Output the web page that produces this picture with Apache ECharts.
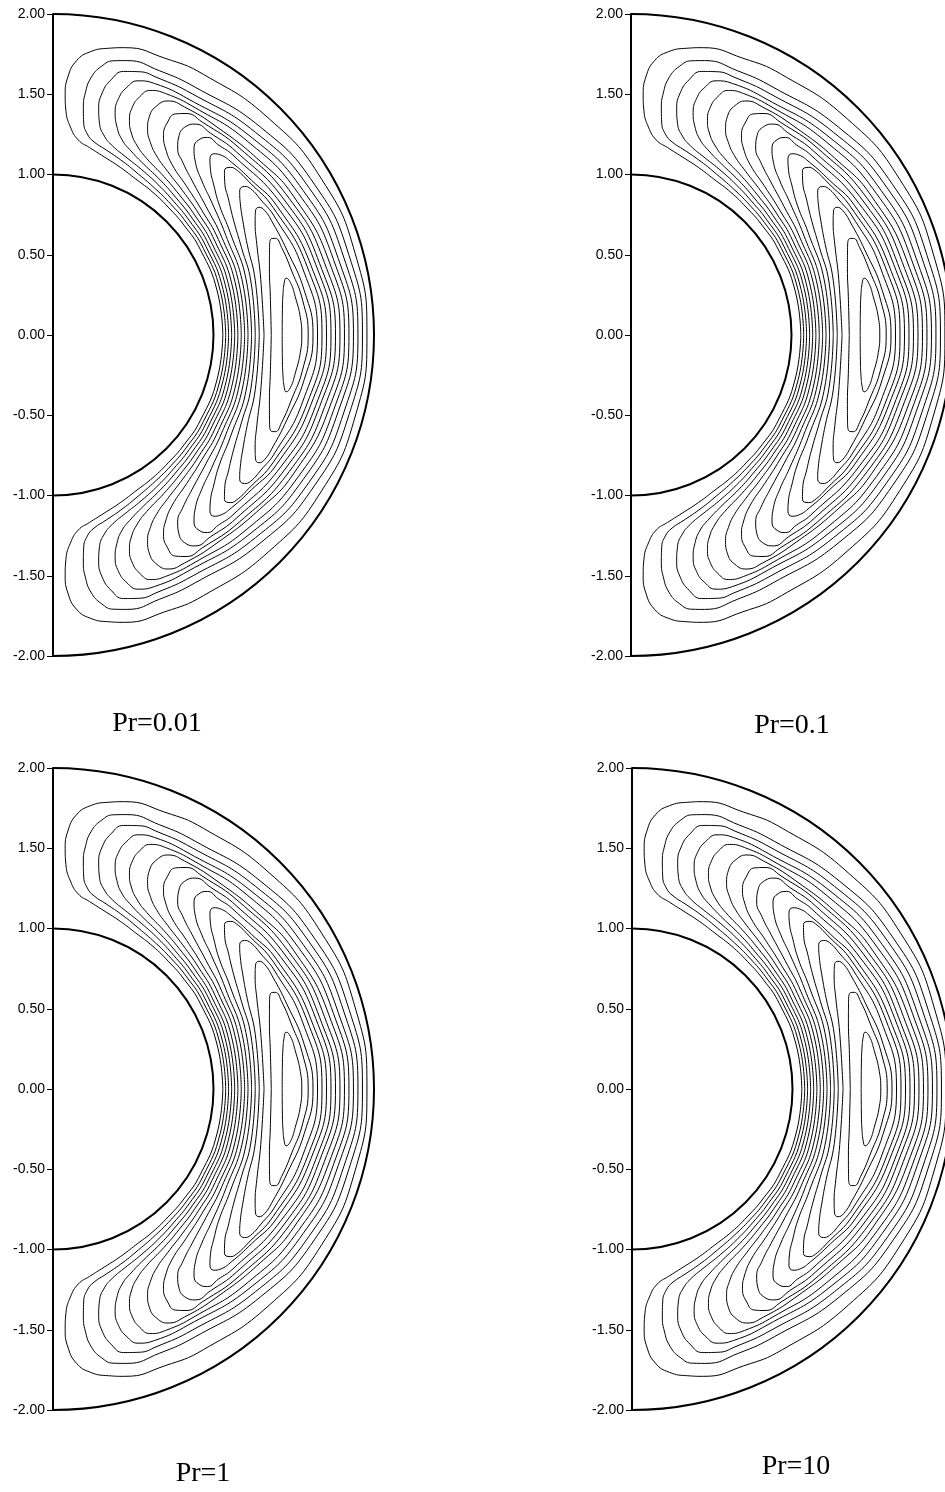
<!DOCTYPE html>
<html>
<head>
<meta charset="utf-8">
<script src="https://cdn.jsdelivr.net/npm/echarts@6/dist/echarts.min.js"></script>
<style>
html, body { margin: 0; padding: 0; background: #fff; }
#main { width: 945px; height: 1492px; }
</style>
</head>
<body>
<div id="main"></div>
<script>
// panel captions
const panelNames = ['Pr=0.01', 'Pr=0.1', 'Pr=1', 'Pr=10'];
// inner and outer wall radii
const walls = [1, 2];
// streamlines, upper half only: [angle deg, radius], inner side -> tip -> outer side
const c01 = [[0,1.058],[15,1.059],[30,1.061],[40,1.065],[48,1.072],[55,1.085],[62,1.10],[68,1.125],[74,1.155],[79,1.19],[82.6,1.225],[85.2,1.30],[86.7,1.40],[87.1,1.50],[86.7,1.61],[85.1,1.715],[82.5,1.78],[79,1.82],[76,1.845],[68,1.86],[60,1.875],[45,1.905],[30,1.935],[15,1.95],[0,1.956]];
const c02 = [[0,1.076],[15,1.078],[30,1.081],[40,1.087],[48,1.097],[55,1.112],[62,1.135],[68,1.165],[74,1.20],[78,1.23],[80.3,1.27],[81.8,1.34],[82.4,1.43],[82.4,1.52],[81.6,1.62],[79.8,1.70],[77.5,1.75],[75,1.77],[68,1.775],[60,1.78],[45,1.83],[30,1.88],[15,1.91],[0,1.928]];
const c03 = [[0,1.094],[15,1.097],[30,1.101],[40,1.109],[48,1.122],[55,1.143],[62,1.17],[68,1.20],[72.5,1.235],[75.5,1.28],[77.6,1.35],[78.6,1.44],[78.5,1.54],[77.2,1.63],[75,1.70],[72,1.725],[68,1.73],[60,1.735],[45,1.785],[30,1.84],[15,1.875],[0,1.90]];
const c04 = [[0,1.113],[15,1.117],[30,1.122],[40,1.132],[48,1.148],[55,1.173],[62,1.205],[67,1.245],[70.5,1.29],[73,1.36],[74.4,1.44],[74.5,1.53],[73.4,1.61],[71.5,1.67],[68,1.69],[60,1.695],[45,1.745],[30,1.80],[15,1.84],[0,1.872]];
const c05 = [[0,1.132],[15,1.137],[30,1.143],[40,1.156],[48,1.176],[55,1.205],[62,1.245],[66,1.29],[68.8,1.35],[70.4,1.42],[70.8,1.5],[70,1.58],[68.3,1.64],[65,1.66],[58,1.67],[45,1.71],[30,1.765],[15,1.81],[0,1.844]];
const c06 = [[0,1.152],[15,1.158],[30,1.166],[40,1.182],[48,1.208],[55,1.245],[60,1.29],[63.2,1.345],[65.3,1.41],[66.2,1.49],[65.6,1.57],[63.8,1.625],[60,1.64],[52,1.65],[40,1.685],[30,1.73],[15,1.78],[0,1.816]];
const c07 = [[0,1.173],[15,1.18],[30,1.19],[40,1.21],[48,1.245],[55,1.295],[58.8,1.355],[61,1.42],[61.7,1.50],[61,1.575],[59,1.61],[55,1.62],[45,1.645],[30,1.70],[15,1.75],[0,1.788]];
const c08 = [[0,1.194],[15,1.202],[30,1.215],[40,1.245],[48,1.295],[53,1.345],[56.3,1.40],[57.7,1.47],[57.5,1.54],[56,1.585],[52,1.595],[45,1.615],[30,1.67],[15,1.72],[0,1.76]];
const c09 = [[0,1.215],[15,1.225],[30,1.243],[40,1.29],[46,1.335],[50.5,1.395],[53,1.46],[53.2,1.52],[52,1.562],[49,1.57],[45,1.585],[30,1.64],[15,1.695],[0,1.732]];
const c10 = [[0,1.237],[15,1.25],[30,1.275],[38,1.315],[43,1.37],[46.5,1.425],[48.3,1.47],[48.4,1.51],[47.1,1.532],[44,1.548],[38,1.568],[30,1.61],[15,1.665],[0,1.704]];
const c11 = [[0,1.26],[15,1.277],[25,1.295],[32,1.33],[37.5,1.38],[41.8,1.435],[43.8,1.48],[43.4,1.52],[42,1.538],[38,1.55],[30,1.585],[15,1.64],[0,1.676]];
const c12 = [[0,1.285],[15,1.305],[25,1.335],[31,1.38],[35,1.425],[37.7,1.47],[37.8,1.51],[36.5,1.532],[33,1.545],[28,1.565],[15,1.61],[0,1.648]];
const c13 = [[0,1.315],[15,1.34],[24,1.39],[29,1.44],[31.5,1.48],[31.8,1.51],[30.5,1.53],[27,1.537],[20,1.55],[10,1.59],[0,1.62]];
const c14 = [[0,1.36],[10,1.375],[17,1.41],[21.5,1.45],[23.8,1.485],[23.5,1.51],[21,1.525],[15,1.54],[8,1.57],[0,1.59]];
const c15 = [[0,1.428],[6,1.437],[10,1.455],[12.8,1.478],[13.7,1.495],[12.5,1.515],[9,1.528],[4,1.545],[0,1.55]];
const contours = [c01, c02, c03, c04, c05, c06, c07, c08, c09, c10, c11, c12, c13, c14, c15];

// layout of the four panels (pixel position of the y axis top) and captions
const panelPos = [[53, 14], [631, 14], [53, 768], [632, 768]];
const captionPos = [[157, 724], [792, 726], [203, 1474], [796, 1467]];
const scale = 160.5; // px per unit, equal on both axes
const pageWidth = 945;

// mirror the upper half into a closed loop and turn it into x,y
function closeLoop(half) {
	const back = half.slice(0, -1).reverse().map(p => [-p[0], p[1]]);
	return half.concat(back).map(p => {
		const a = p[0] * Math.PI / 180;
		return [p[1] * Math.cos(a), p[1] * Math.sin(a)];
	});
}

const grids = [], xAxes = [], yAxes = [], series = [], graphics = [];
panelPos.forEach((pos, i) => {
	// right-hand panels run off the page, so keep the grid inside and shorten the x range
	const w = Math.min(2 * scale, pageWidth - pos[0]);
	grids.push({ left: pos[0], top: pos[1], width: w, height: 4 * scale });
	xAxes.push({ gridIndex: i, type: 'value', min: 0, max: w / scale, show: false });
	yAxes.push({
		gridIndex: i,
		type: 'value',
		min: -2,
		max: 2,
		interval: 0.5,
		axisLine: { show: true, onZero: false, lineStyle: { color: '#000', width: 2 } },
		axisTick: { show: true, inside: false, length: 6, lineStyle: { color: '#000', width: 1 } },
		axisLabel: {
			margin: 8,
			color: '#000',
			fontSize: 14,
			fontFamily: 'Liberation Sans',
			formatter: v => v.toFixed(2)
		},
		splitLine: { show: false }
	});
	contours.forEach(c => {
		series.push({
			type: 'line',
			xAxisIndex: i,
			yAxisIndex: i,
			data: closeLoop(c),
			smooth: 0.5,
			symbol: 'none',
			silent: true,
			clip: false,
			lineStyle: { color: '#000', width: 1 }
		});
	});
	// inner and outer walls
	series.push({
		type: 'custom',
		xAxisIndex: i,
		yAxisIndex: i,
		silent: true,
		clip: false,
		data: walls.map(r => [0, r]),
		renderItem: (params, api) => {
			const c = api.coord([0, 0]);
			const r = api.size([0, api.value(1)])[1];
			return {
				type: 'arc',
				shape: { cx: c[0], cy: c[1], r: r, startAngle: -Math.PI / 2, endAngle: Math.PI / 2, clockwise: true },
				style: { stroke: '#000', lineWidth: 2, fill: null }
			};
		}
	});
	graphics.push({
		type: 'text',
		x: captionPos[i][0],
		y: captionPos[i][1],
		style: {
			text: panelNames[i],
			font: '28px "Liberation Serif"',
			fill: '#000',
			textAlign: 'center',
			textVerticalAlign: 'middle'
		}
	});
});

const myChart = echarts.init(document.getElementById('main'));
myChart.setOption({
	animation: false,
	grid: grids,
	xAxis: xAxes,
	yAxis: yAxes,
	series: series,
	graphic: graphics
});
</script>
</body>
</html>
